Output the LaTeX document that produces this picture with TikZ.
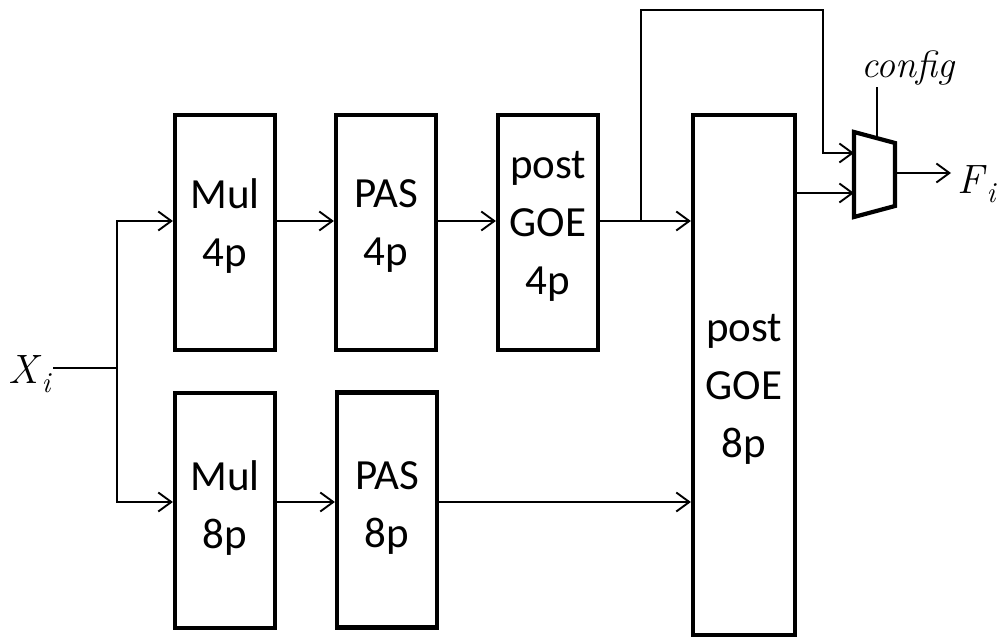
\documentclass[tikz,border=0pt]{standalone}
\usepackage{fontspec}
\newfontfamily\blockfont{Carlito}
\usetikzlibrary{arrows.meta}
% italic symbol with a lowered subscript, set in the (scalable) text font
\newcommand{\symsub}[2]{\textit{#1}\raisebox{-0.22em}{\fontsize{29}{30}\selectfont\textit{#2}}}
\begin{document}
\begin{tikzpicture}[x=1pt,y=-1pt,
  box/.style={draw,line width=4.2pt,minimum width=100pt,minimum height=235pt,inner sep=0pt},
  boxtext/.style={align=center,font=\blockfont\fontsize{43}{58}\selectfont,inner sep=0pt},
  wire/.style={line width=1.9pt},
  arr/.style={wire,-{Straight Barb[length=13pt,width=19pt,line width=1.9pt]}},
  mathlbl/.style={inner sep=0pt,font=\fontsize{41}{48}\selectfont}]
\useasboundingbox (0,0) rectangle (999,639);

% processing blocks
\node[box] (mul4) at (225,232.5) {};
\node[box] (pas4) at (386,232.5) {};
\node[box] (goe4) at (548,232.5) {};
\node[box] (mul8) at (225,510.5) {};
\node[box] (pas8) at (387,510) {};
\node[box,minimum width=102pt,minimum height=520pt] (goe8) at (744,375) {};

\node[boxtext] (tmul4) at (225,226) {Mul\\4p};
\node[boxtext] (tpas4) at (386,226) {PAS\\4p};
\node[boxtext] (tgoe4) at (548,226) {post\\GOE\\4p};
\node[boxtext] (tmul8) at (225,508) {Mul\\8p};
\node[boxtext] (tpas8) at (387,508) {PAS\\8p};
\node[boxtext] (tgoe8) at (744,389) {post\\GOE\\8p};

% output multiplexer
\coordinate (mA) at (854,132);
\coordinate (mB) at (895,143);
\coordinate (mC) at (895,206);
\coordinate (mD) at (854,217);
\draw[line width=4.2pt,line join=miter] (mA) -- (mB) -- (mC) -- (mD) -- cycle;
\coordinate (muxin1) at (854,153);
\coordinate (muxin2) at (854,193);
\coordinate (muxout) at (895,173);
\coordinate (muxsel) at (877,138);

% input and labels
\node[mathlbl] (xi) at (30,374) {\symsub{X}{i}};
\node[mathlbl,anchor=west] (fi) at (957,184) {\symsub{F}{i}};
\node[inner sep=0pt,font=\fontsize{38}{44}\selectfont\itshape] (cfg) at (908,68) {config};

% input fan-out
\coordinate (xiend) at (53,368);
\coordinate (split) at (117,368);
\draw[wire] (xiend) -- (split);
\draw[arr] (split) |- (mul4.west |- 0,221);
\draw[arr] (split) |- (mul8.west |- 0,502);

% upper chain
\draw[arr] (mul4.east |- 0,221) -- (pas4.west |- 0,221);
\draw[arr] (pas4.east |- 0,221) -- (goe4.west |- 0,221);
\draw[arr] (goe4.east |- 0,221) -- (goe8.west |- 0,221);
\coordinate (tap) at (641,221);
\draw[arr] (tap) -- (641,10) -- (823,10) |- (muxin1);

% lower chain
\draw[arr] (mul8.east |- 0,502) -- (pas8.west |- 0,502);
\draw[arr] (pas8.east |- 0,502) -- (goe8.west |- 0,502);

% multiplexer connections
\coordinate (fiin) at (951,173);
\draw[arr] (goe8.east |- muxin2) -- (muxin2);
\draw[arr] (muxout) -- (fiin);
\draw[wire] (muxsel) -- (877,87);
\end{tikzpicture}
\end{document}
